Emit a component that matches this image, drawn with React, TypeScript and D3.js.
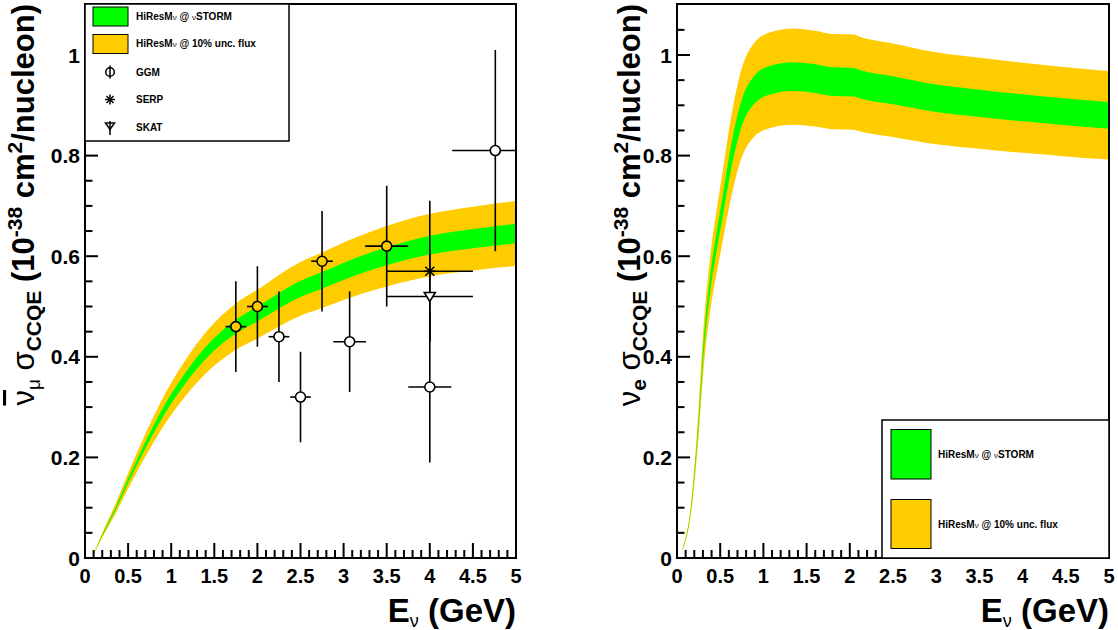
import React from 'react';
import * as d3 from 'd3';

// ---------- data ----------
const xTickValues = [0, 0.5, 1, 1.5, 2, 2.5, 3, 3.5, 4, 4.5, 5];
const xTickLabels = ['0', '0.5', '1', '1.5', '2', '2.5', '3', '3.5', '4', '4.5', '5'];
const yTickValues = [0, 0.2, 0.4, 0.6, 0.8, 1];
const yTickLabels = ['0', '0.2', '0.4', '0.6', '0.8', '1'];

// anti-nu_mu CCQE cross section (centre of bands)
const numubarE = [0.1, 0.2, 0.36, 0.5, 0.63, 0.8, 0.94, 1.1, 1.36, 1.75, 2.0, 2.5, 2.75, 3.0, 3.5, 4.0, 4.5, 5.0];
const numubarXS = [0.008, 0.045, 0.1, 0.153, 0.2, 0.257, 0.3, 0.342, 0.4, 0.46, 0.485, 0.535, 0.552, 0.57, 0.6, 0.622, 0.635, 0.645];

// nu_e CCQE cross section (centre of bands)
const nueE = [0.06, 0.16, 0.25, 0.3, 0.39, 0.46, 0.53, 0.63, 0.75, 0.89, 1.08, 1.34, 1.6, 1.8, 2.05, 2.1, 2.5, 3.0, 3.5, 4.0, 4.5, 5.0];
const nueXS = [0.016, 0.095, 0.27, 0.4, 0.553, 0.63, 0.7, 0.8, 0.885, 0.93, 0.95, 0.957, 0.953, 0.947, 0.946, 0.943, 0.93, 0.914, 0.904, 0.895, 0.887, 0.88];

const stormUnc = 0.03; // relative band half-width, nuSTORM
const fluxUnc = 0.1; // relative band half-width, 10% flux

// GGM points (open markers)
const ggmOpenE = [2.25, 2.5, 3.07, 4.0, 4.76];
const ggmOpenXS = [0.44, 0.32, 0.43, 0.34, 0.81];
const ggmOpenEx = [0.12, 0.12, 0.19, 0.25, 0.5];
const ggmOpenEy = [0.09, 0.09, 0.1, 0.15, 0.2];
// GGM points (filled markers)
const ggmFillE = [1.75, 2.0, 2.75, 3.5];
const ggmFillXS = [0.46, 0.5, 0.59, 0.62];
const ggmFillEx = [0.12, 0.12, 0.125, 0.25];
const ggmFillEy = [0.09, 0.08, 0.1, 0.12];
// SERP
const serpE = [4.0];
const serpXS = [0.57];
const serpEx = [0.5];
const serpEy = [0.14];
// SKAT
const skatE = [4.0];
const skatXS = [0.52];
const skatEx = [0.5];
const skatEy = [0.09];

const GREEN = '#00ff00';
const ORANGE = '#ffcc00';
const FONT = '"Liberation Sans", Arial, Helvetica, sans-serif';

type PanelProps = { x0: number; x1: number; children?: any; yTitle: any; yTitleX: number };

const Y0 = 558;
const YTOP = 4;

function Axes({ x0, x1, yTitle, yTitleX }: PanelProps) {
  const xs = d3.scaleLinear().domain([0, 5]).range([x0, x1]);
  const ys = d3.scaleLinear().domain([0, 1.1]).range([Y0, Y0 - 1.1 * 503]);
  const xMinor = d3.range(0, 51).map((i) => i / 10);
  const yMinor = d3.range(0, 22).map((i) => i / 20);
  return (
    <g>
      <rect x={x0} y={YTOP} width={x1 - x0} height={Y0 - YTOP} fill="none" stroke="#000" strokeWidth={2} />
      {xMinor.map((v, i) => {
        const major = i % 5 === 0;
        return <line key={'xm' + i} x1={xs(v)} x2={xs(v)} y1={Y0} y2={Y0 - (major ? 15 : 8)} stroke="#000" strokeWidth={2} />;
      })}
      {yMinor.map((v, i) => {
        const major = i % 4 === 0;
        return <line key={'ym' + i} x1={x0} x2={x0 + (major ? 13 : 7.5)} y1={ys(v)} y2={ys(v)} stroke="#000" strokeWidth={2} />;
      })}
      {xTickValues.map((v, i) => (
        <text key={'xl' + i} x={xs(v)} y={583} textAnchor="middle" fontSize={20} fontWeight="bold" fontFamily={FONT}>
          {xTickLabels[i]}
        </text>
      ))}
      {yTickValues.map((v, i) => (
        <text key={'yl' + i} x={x0 - 5} y={ys(v) + 7.5} textAnchor="end" fontSize={21} fontWeight="bold" fontFamily={FONT}>
          {yTickLabels[i]}
        </text>
      ))}
      <text x={x1} y={622} textAnchor="end" fontSize={33} fontWeight="bold" fontFamily={FONT}>
        E<tspan fontSize={18} fontWeight="normal" dy={5}>ν</tspan>
        <tspan dy={-5}> (GeV)</tspan>
      </text>
      <text transform={`translate(${yTitleX},${YTOP}) rotate(-90)`} textAnchor="end" fontSize={31} fontWeight="bold" fontFamily={FONT}>
        {yTitle}
      </text>
    </g>
  );
}

function bandPaths(E: number[], XS: number[], unc: number, xs: any, ys: any) {
  const data = E.map((e, i) => ({ e, v: XS[i] }));
  const area = d3
    .area<{ e: number; v: number }>()
    .x((d) => xs(d.e))
    .y0((d) => ys(d.v * (1 - unc)))
    .y1((d) => ys(d.v * (1 + unc)))
    .curve(d3.curveMonotoneX);
  return area(data) as string;
}

function ErrPoint({ x, y, ex, ey, xs, ys, marker, fill }: any) {
  const cx = xs(x);
  const cy = ys(y);
  const xl = xs(Math.max(0, x - ex));
  const xr = xs(Math.min(5, x + ex));
  return (
    <g>
      <line x1={xl} x2={xr} y1={cy} y2={cy} stroke="#000" strokeWidth={1.6} />
      <line x1={cx} x2={cx} y1={ys(y - ey)} y2={ys(Math.min(1.1, y + ey))} stroke="#000" strokeWidth={1.6} />
      {marker === 'circle' && <circle cx={cx} cy={cy} r={5} fill={fill} stroke="#000" strokeWidth={1.6} />}
      {marker === 'star' && (
        <g stroke="#000" strokeWidth={1.6}>
          <line x1={cx - 6} x2={cx + 6} y1={cy} y2={cy} />
          <line x1={cx} x2={cx} y1={cy - 6} y2={cy + 6} />
          <line x1={cx - 4.5} x2={cx + 4.5} y1={cy - 4.5} y2={cy + 4.5} />
          <line x1={cx - 4.5} x2={cx + 4.5} y1={cy + 4.5} y2={cy - 4.5} />
        </g>
      )}
      {marker === 'tri' && (
        <path d={`M${cx - 5.5},${cy - 4}L${cx + 5.5},${cy - 4}L${cx},${cy + 5}Z`} fill="#fff" stroke="#000" strokeWidth={1.6} />
      )}
    </g>
  );
}

function SmallNu() {
  return <tspan fontSize={8} fontWeight="normal">ν</tspan>;
}

export default function App() {
  const lx0 = 85, lx1 = 516, rx0 = 677, rx1 = 1109;
  const xsL = d3.scaleLinear().domain([0, 5]).range([lx0, lx1]);
  const xsR = d3.scaleLinear().domain([0, 5]).range([rx0, rx1]);
  const ys = d3.scaleLinear().domain([0, 1.1]).range([Y0, Y0 - 1.1 * 503]);

  const leftTitle = (
    <>
      <tspan fontWeight="normal" style={{ textDecoration: 'overline' }}>ν</tspan>
      <tspan fontSize={19} fontWeight="normal" dy={6}>μ</tspan>
      <tspan dy={-6} fontWeight="normal">  σ</tspan>
      <tspan fontSize={21} dy={7}>CCQE</tspan>
      <tspan dy={-7}> (10</tspan>
      <tspan fontSize={21} dy={-12}>-38</tspan>
      <tspan dy={12}> cm</tspan>
      <tspan fontSize={21} dy={-12}>2</tspan>
      <tspan dy={12}>/nucleon)</tspan>
    </>
  );
  const rightTitle = (
    <>
      <tspan fontWeight="normal">ν</tspan>
      <tspan fontSize={21} dy={6}>e</tspan>
      <tspan dy={-6} fontWeight="normal">  σ</tspan>
      <tspan fontSize={21} dy={7}>CCQE</tspan>
      <tspan dy={-7}> (10</tspan>
      <tspan fontSize={21} dy={-12}>-38</tspan>
      <tspan dy={12}> cm</tspan>
      <tspan fontSize={21} dy={-12}>2</tspan>
      <tspan dy={12}>/nucleon)</tspan>
    </>
  );

  const legText = { fontSize: 10, fontWeight: 'bold' as const, fontFamily: FONT };

  return (
    <svg width={1118} height={630} style={{ position: 'absolute', left: 0, top: 0, background: '#fff' }}>
      <rect width={1118} height={630} fill="#fff" />
      {/* ---------- left panel ---------- */}
      <path d={bandPaths(numubarE, numubarXS, fluxUnc, xsL, ys)} fill={ORANGE} />
      <path d={bandPaths(numubarE, numubarXS, stormUnc, xsL, ys)} fill={GREEN} />
      {ggmOpenE.map((e, i) => (
        <ErrPoint key={'go' + i} x={e} y={ggmOpenXS[i]} ex={ggmOpenEx[i]} ey={ggmOpenEy[i]} xs={xsL} ys={ys} marker="circle" fill="#fff" />
      ))}
      {serpE.map((e, i) => (
        <ErrPoint key={'se' + i} x={e} y={serpXS[i]} ex={serpEx[i]} ey={serpEy[i]} xs={xsL} ys={ys} marker="star" />
      ))}
      {skatE.map((e, i) => (
        <ErrPoint key={'sk' + i} x={e} y={skatXS[i]} ex={skatEx[i]} ey={skatEy[i]} xs={xsL} ys={ys} marker="tri" />
      ))}
      {ggmFillE.map((e, i) => (
        <ErrPoint key={'gf' + i} x={e} y={ggmFillXS[i]} ex={ggmFillEx[i]} ey={ggmFillEy[i]} xs={xsL} ys={ys} marker="circle" fill={ORANGE} />
      ))}
      <Axes x0={lx0} x1={lx1} yTitle={leftTitle} yTitleX={34} />
      {/* left legend */}
      <g>
        <rect x={85} y={4} width={204} height={137} fill="#fff" stroke="#000" strokeWidth={1.5} />
        <rect x={93} y={7} width={35} height={19} fill={GREEN} stroke="#000" strokeWidth={1} />
        <rect x={93} y={34.5} width={35} height={19} fill={ORANGE} stroke="#000" strokeWidth={1} />
        <text x={136} y={19.5} {...legText}>HiResM<SmallNu /> @ <SmallNu />STORM</text>
        <text x={136} y={47} {...legText}>HiResM<SmallNu /> @ 10% unc. flux</text>
        <line x1={110} x2={110} y1={65.5} y2={78.5} stroke="#000" strokeWidth={1.5} />
        <circle cx={110} cy={72} r={4.3} fill="none" stroke="#000" strokeWidth={1.5} />
        <text x={136} y={75.5} {...legText}>GGM</text>
        <g stroke="#000" strokeWidth={1.5}>
          <line x1={105} x2={115} y1={99.5} y2={99.5} />
          <line x1={110} x2={110} y1={94.5} y2={104.5} />
          <line x1={106.5} x2={113.5} y1={96} y2={103} />
          <line x1={106.5} x2={113.5} y1={103} y2={96} />
        </g>
        <text x={136} y={103} {...legText}>SERP</text>
        <line x1={110} x2={110} y1={121} y2={135} stroke="#000" strokeWidth={1.5} />
        <path d="M105.5,123L114.5,123L110,129.5Z" fill="none" stroke="#000" strokeWidth={1.5} />
        <text x={136} y={131} {...legText}>SKAT</text>
      </g>

      {/* ---------- right panel ---------- */}
      <path d={bandPaths(nueE, nueXS, fluxUnc, xsR, ys)} fill={ORANGE} />
      <path d={bandPaths(nueE, nueXS, stormUnc, xsR, ys)} fill={GREEN} />
      <Axes x0={rx0} x1={rx1} yTitle={rightTitle} yTitleX={640} />
      <g>
        <rect x={882} y={420} width={227} height={138} fill="#fff" stroke="#000" strokeWidth={1.5} />
        <rect x={891} y={429.5} width={40} height={49.5} fill={GREEN} stroke="#000" strokeWidth={1} />
        <rect x={891} y={499.5} width={40} height={49} fill={ORANGE} stroke="#000" strokeWidth={1} />
        <text x={938} y={458} {...legText}>HiResM<SmallNu /> @ <SmallNu />STORM</text>
        <text x={938} y={528} {...legText}>HiResM<SmallNu /> @ 10% unc. flux</text>
      </g>
    </svg>
  );
}
